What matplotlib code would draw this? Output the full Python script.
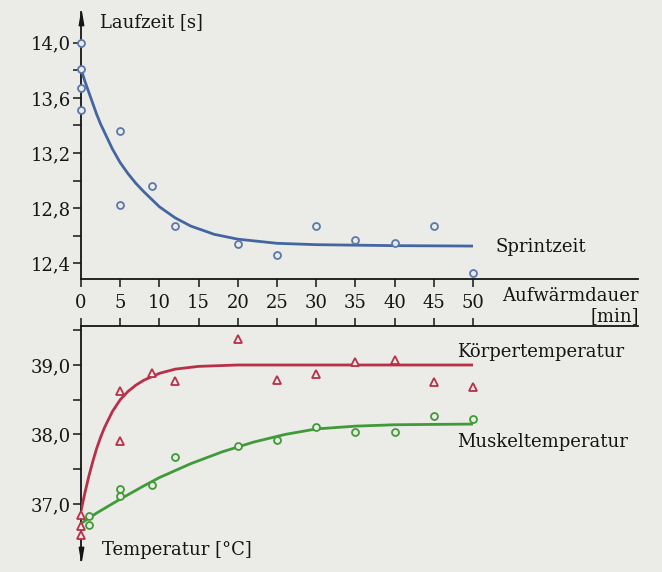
import matplotlib
matplotlib.use('Agg')
import matplotlib.pyplot as plt
from matplotlib.path import Path
from matplotlib.ticker import FixedLocator, FixedFormatter

# ---------------- data ----------------
sprint_x = [0, 0, 0, 0, 5, 5, 9, 12, 20, 25, 30, 35, 40, 45, 50]
sprint_y = [14.0, 13.81, 13.67, 13.51, 13.36, 12.82, 12.96, 12.67, 12.54, 12.46,
            12.67, 12.57, 12.55, 12.67, 12.33]
sprint_fit_x = [0, 0.5, 1, 1.5, 2, 2.5, 3, 4, 5, 6, 7, 8, 10, 12, 14, 17, 20, 25, 30, 40, 50]
sprint_fit_y = [13.81, 13.72, 13.64, 13.56, 13.48, 13.41, 13.35, 13.23, 13.13, 13.05,
                12.98, 12.92, 12.81, 12.73, 12.67, 12.61, 12.575, 12.545, 12.535,
                12.528, 12.525]

koerper_x = [0, 0, 0, 5, 5, 9, 12, 20, 25, 30, 35, 40, 45, 50]
koerper_y = [36.84, 36.69, 36.55, 38.62, 37.90, 38.89, 38.77, 39.38, 38.79, 38.87,
             39.05, 39.07, 38.76, 38.69]
koerper_fit_x = [0, 0.5, 1, 1.5, 2, 2.5, 3, 4, 5, 6, 7, 8, 10, 12, 15, 20, 30, 40, 50]
koerper_fit_y = [36.9, 37.16, 37.4, 37.61, 37.8, 37.96, 38.1, 38.33, 38.5, 38.62,
                 38.71, 38.78, 38.88, 38.94, 38.98, 39.0, 39.0, 39.0, 39.0]

muskel_x = [1, 1, 5, 5, 9, 12, 20, 25, 30, 35, 40, 45, 50]
muskel_y = [36.83, 36.70, 37.21, 37.11, 37.28, 37.67, 37.83, 37.92, 38.11, 38.03,
            38.04, 38.27, 38.23]
muskel_fit_x = [0, 2, 5, 8, 10, 14, 18, 22, 26, 30, 35, 40, 50]
muskel_fit_y = [36.72, 36.87, 37.07, 37.26, 37.38, 37.58, 37.75, 37.89, 38.0, 38.08,
                38.12, 38.14, 38.15]

x_ticks = [0, 5, 10, 15, 20, 25, 30, 35, 40, 45, 50]
x_ticklabels = ["0", "5", "10", "15", "20", "25", "30", "35", "40", "45", "50"]
top_yticks = [12.4, 12.8, 13.2, 13.6, 14.0]
top_yticklabels = ["12,4", "12,8", "13,2", "13,6", "14,0"]
top_yminor = [12.6, 13.0, 13.4, 13.8]
bot_yticks = [37.0, 38.0, 39.0]
bot_yticklabels = ["37,0", "38,0", "39,0"]
bot_yminor = [37.5, 38.5, 39.5]

# ---------------- style ----------------
BG = '#ebebe8'
INK = '#151515'
BLUE = '#4466a0'
BLUE_M = '#5a78aa'
RED = '#b83048'
GREEN = '#3f9a38'
FONT = 'DejaVu Serif'
FS = 13

plt.rcParams['font.family'] = [FONT]

W, H = 662, 572
fig = plt.figure(figsize=(W / 100, H / 100), dpi=100, facecolor=BG)


def rect(l, r, t, b):
    return [l / W, 1 - b / H, (r - l) / W, (b - t) / H]


XMAX = (638 - 81) / 7.84
ax1 = fig.add_axes(rect(81, 638, 12, 279))
ax2 = fig.add_axes(rect(81, 638, 326, 560))

top_ylim = (12.286, 14.223)
bot_ylim = (36.194, 39.561)

for ax in (ax1, ax2):
    ax.set_facecolor('none')
    ax.set_xlim(0, XMAX)
    for s in ax.spines.values():
        s.set_color(INK)
        s.set_linewidth(1.3)
    ax.tick_params(colors=INK, labelsize=FS, width=1.1)
    ax.tick_params(which='minor', width=1.1, length=5.8, colors=INK)

ax1.set_ylim(*top_ylim)
ax2.set_ylim(*bot_ylim)

# top panel spines / ticks
ax1.spines['top'].set_visible(False)
ax1.spines['right'].set_visible(False)
ax1.xaxis.set_major_locator(FixedLocator(x_ticks))
ax1.xaxis.set_major_formatter(FixedFormatter(x_ticklabels))
ax1.tick_params(axis='x', direction='out', length=5.8, pad=5)
ax1.yaxis.set_major_locator(FixedLocator(top_yticks))
ax1.yaxis.set_major_formatter(FixedFormatter(top_yticklabels))
ax1.yaxis.set_minor_locator(FixedLocator(top_yminor))
ax1.tick_params(axis='y', direction='out', length=5.8, pad=1.5)

# bottom panel spines / ticks
ax2.spines['bottom'].set_visible(False)
ax2.spines['right'].set_visible(False)
ax2.xaxis.tick_top()
ax2.xaxis.set_major_locator(FixedLocator(x_ticks))
ax2.tick_params(axis='x', direction='out', length=5.8, labeltop=False, labelbottom=False)
ax2.yaxis.set_major_locator(FixedLocator(bot_yticks))
ax2.yaxis.set_major_formatter(FixedFormatter(bot_yticklabels))
ax2.yaxis.set_minor_locator(FixedLocator(bot_yminor))
ax2.tick_params(axis='y', direction='out', length=5.8, pad=1.5)

# arrows on the y axes
up = Path([(0, 0), (-0.17, -1), (0.17, -1), (0, 0)],
          [Path.MOVETO, Path.LINETO, Path.LINETO, Path.CLOSEPOLY])
down = Path([(0, 0), (-0.17, 1), (0.17, 1), (0, 0)],
            [Path.MOVETO, Path.LINETO, Path.LINETO, Path.CLOSEPOLY])
ax1.plot([0], [top_ylim[1]], marker=up, ms=19, color=INK, mec=INK, clip_on=False, zorder=5)
ax2.plot([0], [bot_ylim[0]], marker=down, ms=19, color=INK, mec=INK, clip_on=False, zorder=5)

# curves
ax1.plot(sprint_fit_x, sprint_fit_y, color=BLUE, lw=2.0, solid_joinstyle='round',
         solid_capstyle='butt', zorder=3)
ax1.plot(sprint_x, sprint_y, ls='none', marker='o', ms=5, mfc=BG, mec=BLUE_M, mew=1.3,
         clip_on=False, zorder=4)

ax2.plot(koerper_fit_x, koerper_fit_y, color=RED, lw=2.0, solid_joinstyle='round',
         solid_capstyle='butt', zorder=3)
ax2.plot(koerper_x, koerper_y, ls='none', marker='^', ms=6, mfc=BG, mec=RED, mew=1.3,
         clip_on=False, zorder=4)
ax2.plot(muskel_fit_x, muskel_fit_y, color=GREEN, lw=2.0, solid_joinstyle='round',
         solid_capstyle='butt', zorder=3)
ax2.plot(muskel_x, muskel_y, ls='none', marker='o', ms=5, mfc=BG, mec=GREEN, mew=1.3,
         clip_on=False, zorder=4)


def ftext(x, y, s, ha='left'):
    fig.text(x / W, 1 - y / H, s, ha=ha, va='center', fontsize=FS, color=INK)


ftext(100, 22, "Laufzeit [s]")
ftext(495, 247, "Sprintzeit")
ftext(639, 296, "Aufwärmdauer", ha='right')
ftext(639, 316, "[min]", ha='right')
ftext(457, 352, "Körpertemperatur")
ftext(457, 442, "Muskeltemperatur")
ftext(102, 550, "Temperatur [°C]")

fig.savefig('out.png', dpi=100, facecolor=BG)
